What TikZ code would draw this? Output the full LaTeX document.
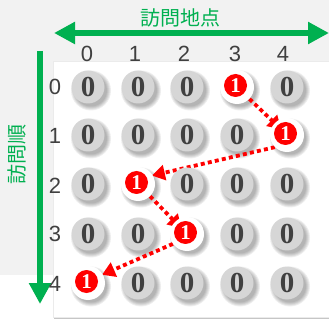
\documentclass[tikz,border=0pt]{standalone}
\usepackage{fontspec}
\setmainfont{Liberation Serif}
\newfontfamily\sansf{Liberation Sans}
\newfontfamily\cjk{Noto Sans CJK JP}
\usetikzlibrary{arrows.meta}
\definecolor{bgGray}{HTML}{F2F2F2}
\definecolor{okGreen}{HTML}{00B050}
\definecolor{zeroFill}{HTML}{D6D6D6}
\definecolor{digitGray}{HTML}{404040}
\definecolor{redOne}{HTML}{FF0000}
\pgfdeclarelayer{back}
\pgfdeclarelayer{shad}
\pgfdeclarelayer{arr}
\pgfsetlayers{back,shad,arr,main}
\tikzset{
  zeronode/.style={circle, minimum size=33pt, inner sep=0pt, fill=zeroFill,
    text=digitGray, font=\bfseries\fontsize{29}{29}\selectfont},
  onenode/.style={circle, minimum size=34pt, inner sep=0pt, fill=white},
  reddot/.style={circle, minimum size=23pt, inner sep=0pt, fill=redOne,
    text=white, font=\bfseries\fontsize{21}{21}\selectfont},
  headlabel/.style={text=digitGray, font=\sansf\fontsize{22}{22}\selectfont, inner sep=0pt},
  greenarrow/.style={draw=okGreen, line width=5.5pt},
  greenlabel/.style={text=okGreen, font=\cjk\fontsize{20}{20}\selectfont, inner sep=0pt},
  redarrow/.style={draw=redOne, line width=3.8pt, dash pattern=on 4pt off 3.2pt,
    -{Triangle[length=13pt,width=15pt,fill=redOne]}},
  shadowdisc/.style={fill=black, opacity=0.065}
}
\begin{document}
\begin{tikzpicture}[x=1pt,y=-1pt]
\useasboundingbox (0,0) rectangle (329,320);
\begin{pgfonlayer}{back}
  \fill[white] (0,0) rectangle (329,320);
  \fill[bgGray] (0,0) rectangle (329,275);
  \fill[black!8] (52.5,61) rectangle (329,318);
  \fill[white] (54,62) rectangle (329,317);
  \draw[gray!45, line width=1.5pt] (54,318.5) -- (329,318.5);
\end{pgfonlayer}

% green axes
\coordinate (hl) at (54,33);
\coordinate (hr) at (329,33);
\draw[greenarrow, {Triangle[length=21pt,width=21pt]}-{Triangle[length=21pt,width=21pt]}] (hl) -- (hr);
\node[greenlabel] (xlab) at (180,18) {訪問地点};
\coordinate (vt) at (40,51);
\coordinate (vb) at (40,304);
\draw[greenarrow, -{Triangle[length=21pt,width=21pt]}] (vt) -- (vb);
\node[greenlabel, rotate=90] (ylab) at (17,155) {訪問順};

% column headers
\foreach \c/\x in {0/87,1/135,2/184,3/235,4/283}
  \node[headlabel] (col\c) at (\x,54) {\c};
% row headers
\foreach \r/\y in {0/87,1/136,2/186,3/234,4/284}
  \node[headlabel] (row\r) at (55,\y) {\r};

% grid positions and soft shadows
\foreach \r/\y in {0/87,1/135,2/184,3/234,4/283}{
  \foreach \c/\x in {0/88,1/138,2/187,3/237,4/287}{
    \coordinate (p\r\c) at (\x,\y);
    \begin{pgfonlayer}{shad}
      \foreach \rad in {20,19,18,17,16}
        \fill[shadowdisc] (\x+3,\y+3.5) circle (\rad);
    \end{pgfonlayer}
  }
}
% ones: (0,3),(1,4),(2,1),(3,2),(4,0)
\foreach \r/\c in {0/0,0/1,0/2,0/4,
                   1/0,1/1,1/2,1/3,
                   2/0,2/2,2/3,2/4,
                   3/0,3/1,3/3,3/4,
                   4/1,4/2,4/3,4/4}
  \node[zeronode] (n\r\c) at (p\r\c) {0};
\foreach \r/\c in {0/3,1/4,2/1,3/2,4/0}{
  \node[onenode] (n\r\c) at (p\r\c) {};
  \node[reddot] (d\r\c) at ([shift={(-1.5,-1.5)}]p\r\c) {1};
}

% red dotted path
\begin{pgfonlayer}{arr}
  \draw[redarrow, shorten >=-9pt] (n03) -- (n14);
  \draw[redarrow, shorten >=-1pt] (n14.225) -- (n21.30);
  \draw[redarrow, shorten >=-9pt] (n21) -- (n32);
  \draw[redarrow, shorten >=-1pt] (n32.215) -- (n40.30);
\end{pgfonlayer}
\end{tikzpicture}
\end{document}
